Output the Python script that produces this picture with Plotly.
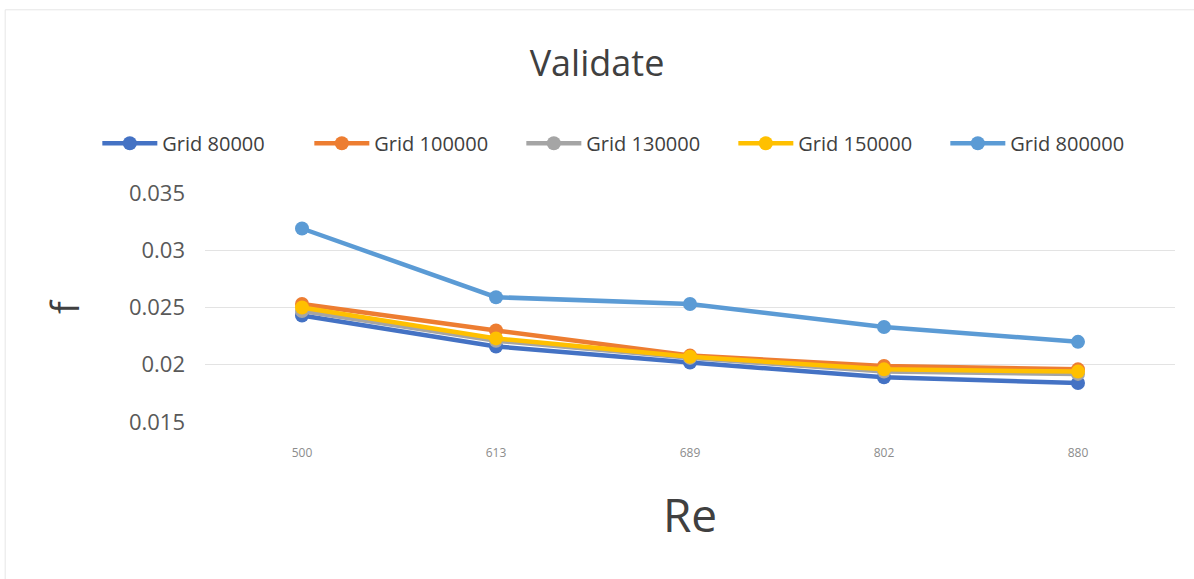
import plotly.graph_objects as go

re_labels = ["500", "613", "689", "802", "880"]
grid_80000 = [0.0243, 0.0216, 0.0202, 0.0189, 0.0184]
grid_100000 = [0.0253, 0.0230, 0.0208, 0.0199, 0.0196]
grid_130000 = [0.0247, 0.0221, 0.0206, 0.0194, 0.0192]
grid_150000 = [0.0250, 0.0223, 0.0207, 0.0196, 0.0194]
grid_800000 = [0.0319, 0.0259, 0.0253, 0.0233, 0.0220]

series = [
    ("Grid 80000", grid_80000, "#4472C4"),
    ("Grid 100000", grid_100000, "#ED7D31"),
    ("Grid 130000", grid_130000, "#A5A5A5"),
    ("Grid 150000", grid_150000, "#FFC000"),
    ("Grid 800000", grid_800000, "#5B9BD5"),
]

FONT = "Open Sans"
fig = go.Figure()
for name, vals, color in series:
    fig.add_trace(go.Scatter(
        x=re_labels, y=vals, name=name, mode="lines+markers",
        line=dict(color=color, width=4.5),
        marker=dict(color=color, size=14),
    ))

fig.update_layout(
    width=1194, height=579,
    paper_bgcolor="white", plot_bgcolor="white",
    margin=dict(l=205, r=19, t=193, b=157),
    font=dict(family=FONT, color="#595959"),
    title=dict(text="Validate", x=0.5, xanchor="center", y=0.891, yanchor="middle",
               font=dict(size=36, color="#404040", family=FONT)),
    showlegend=True,
    legend=dict(orientation="h", x=-0.111, xanchor="left", y=1.217, yanchor="middle",
                font=dict(size=20, color="#404040", family=FONT),
                entrywidth=142, entrywidthmode="pixels", itemwidth=55,
                traceorder="normal"),
    xaxis=dict(type="category", range=[-0.5, 4.5], showgrid=False, zeroline=False,
               showline=False, ticks="", tickfont=dict(size=12, color="#8C8C8C"),
               ticklabelstandoff=22,
               title=dict(text="Re", font=dict(size=46, color="#404040"), standoff=39)),
    yaxis=dict(range=[0.015, 0.035], dtick=0.005, showgrid=True, gridcolor="#E3E3E3",
               gridwidth=1, zeroline=False, showline=False, ticks="",
               tickfont=dict(size=22, color="#595959"), tickformat="~g",
               ticklabelstandoff=19,
               title=dict(text="f", font=dict(size=38, color="#404040"), standoff=37)),
)
fig.add_shape(type="rect", xref="paper", yref="paper",
              x0=-0.206, x1=1.05, y0=-0.72, y1=1.80,
              line=dict(color="#E6E6E6", width=1), fillcolor="rgba(0,0,0,0)")

fig.write_html("out.html", config={"displayModeBar": False},
               post_script="document.body.style.margin='0';document.body.style.overflow='hidden';")
